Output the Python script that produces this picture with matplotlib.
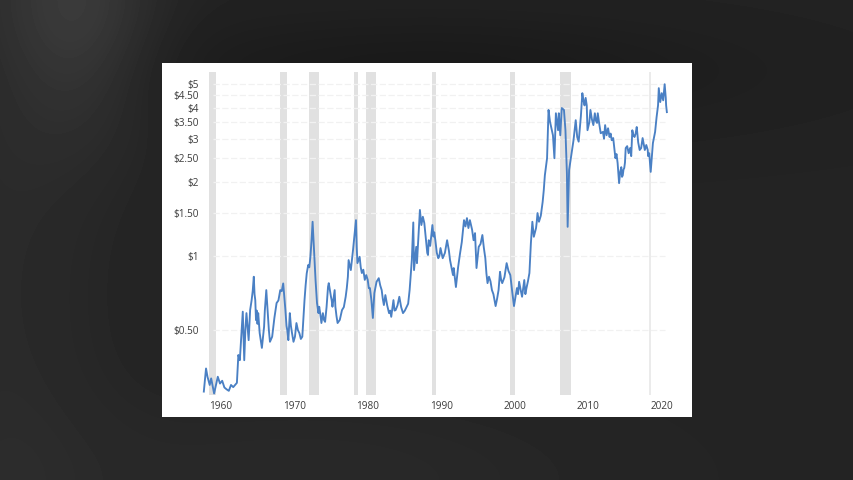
import numpy as np
import matplotlib
matplotlib.use("Agg")
import matplotlib.pyplot as plt

plt.rcParams['font.family'] = ['Open Sans', 'DejaVu Sans']
plt.rcParams['text.parse_math'] = False

years = [1957.7, 1958.0, 1958.2, 1958.5, 1958.7, 1959.1, 1959.6, 1959.9, 1960.2, 1960.8,
         1961.4, 1962.2, 1962.4, 1962.6, 1963.0, 1963.2, 1963.5, 1963.8, 1964.0, 1964.5,
         1964.7, 1964.8, 1965.1, 1965.3, 1965.6, 1965.9, 1966.2, 1966.4, 1966.7, 1967.0,
         1967.6, 1968.1, 1968.5, 1968.8, 1969.2, 1969.4, 1969.7, 1969.9, 1970.3, 1970.7,
         1971.1, 1971.4, 1971.7, 1971.9, 1972.2, 1972.5, 1972.7, 1972.9, 1973.1, 1973.3,
         1973.4, 1973.7, 1973.9, 1974.2, 1974.6, 1974.7, 1975.0, 1975.2, 1975.5, 1975.6,
         1975.9, 1976.5, 1977.0, 1977.3, 1977.4, 1977.7, 1978.0, 1978.4, 1978.5, 1978.6,
         1978.9, 1979.2, 1979.8, 1980.3, 1980.5, 1980.7, 1980.9, 1981.2, 1981.5, 1981.9,
         1982.2, 1982.4, 1982.9, 1983.2, 1983.5, 1983.8, 1984.3, 1984.8, 1985.3, 1985.7,
         1986.0, 1986.2, 1986.3, 1986.6, 1986.7, 1987.1, 1987.3, 1987.5, 1987.7, 1988.1,
         1988.2, 1988.3, 1988.8, 1989.2, 1989.6, 1989.9, 1990.2, 1990.8, 1991.2, 1991.6,
         1991.7, 1992.0, 1992.3, 1992.8, 1993.1, 1993.5, 1993.9, 1994.4, 1994.6, 1994.8,
         1995.1, 1995.6, 1996.0, 1996.3, 1996.5, 1996.9, 1997.4, 1997.8, 1998.0, 1998.3,
         1998.9, 1999.4, 1999.9, 2000.3, 2000.6, 2001.0, 2001.3, 2001.6, 2002.0, 2002.2,
         2002.4, 2002.6, 2002.9, 2003.1, 2003.3, 2003.8, 2004.1, 2004.4, 2004.6, 2004.8,
         2005.2, 2005.4, 2005.6, 2005.9, 2006.0, 2006.2, 2006.4, 2006.7, 2006.9, 2007.1,
         2007.2, 2007.4, 2007.8, 2008.0, 2008.3, 2008.7, 2009.2, 2009.5, 2009.8, 2009.9,
         2010.3, 2010.7, 2010.9, 2011.2, 2011.3, 2011.7, 2012.3, 2012.5, 2012.7, 2013.2,
         2013.4, 2013.7, 2014.0, 2014.2, 2014.5, 2014.7, 2014.9, 2015.1, 2015.5, 2015.7,
         2016.0, 2016.3, 2016.6, 2017.0, 2017.4, 2017.7, 2017.9, 2018.3, 2018.5, 2018.8,
         2019.1, 2019.3, 2019.5, 2019.6, 2019.8, 2020.0, 2020.4, 2020.7]

prices = [.281, .349, .323, .299, .318, .276, .323, .303, .311, .287,
          .299, .305, .396, .377, .594, .377, .586, .455, .603, .824,
          .662, .549, .586, .486, .423, .516, .727, .586, .448, .470,
          .644, .727, .774, .603, .455, .586, .486, .448, .534, .486,
          .470, .662, .850, .919, .993, 1.379, 1.058, .799, .644, .586,
          .622, .534, .586, .540, .750, .776, .683, .622, .727, .622,
          .534, .603, .683, .824, .963, .877, 1.058, 1.40, 1.09, .936,
          .993, .853, .837, .741, .662, .560, .707, .786, .813, .727,
          .632, .694, .586, .566, .662, .603, .683, .586, .622, .727,
          .963, 1.37, .877, 1.09, .936, 1.54, 1.337, 1.445, 1.362, 1.03,
          1.01, 1.16, 1.337, 1.16, .98, 1.078, .98, 1.16, .963, .837,
          .894, .748, .902, 1.14, 1.40, 1.427, 1.40, 1.16, 1.24, .894,
          1.09, 1.218, .98, .776, .824, .727, .626, .727, .863, .776,
          .936, .837, .626, .741, .786, .683, .799, .741, .853, 1.13,
          1.379, 1.198, 1.30, 1.496, 1.379, 1.66, 2.13, 2.50, 3.93, 3.52,
          3.10, 2.50, 3.81, 3.25, 3.81, 3.10, 4.00, 3.93, 3.25, 2.17,
          1.315, 2.24, 2.70, 2.96, 3.57, 2.92, 4.60, 4.10, 4.10, 3.25,
          3.93, 3.41, 3.81, 3.48, 3.81, 3.16, 3.41, 3.10, 3.31, 2.96,
          3.02, 2.50, 2.39, 1.98, 2.30, 2.13, 2.28, 2.75, 2.62, 2.75,
          3.25, 3.05, 3.35, 2.70, 3.02, 2.70, 2.83, 2.62, 2.20, 2.88,
          3.20, 3.67, 4.10, 4.82, 4.23, 4.60, 5.00, 3.85]

# second pass over the picture, the smaller swings between the turning points above
extra_years = [1960.5, 1961.1, 1961.7, 1962.0, 1963.1, 1963.35, 1963.9, 1964.2, 1964.35, 1964.6,
               1964.9, 1965.0, 1966.0, 1966.1, 1966.55, 1967.3, 1967.45, 1967.85, 1968.3, 1968.95,
               1969.05, 1969.55, 1970.1, 1970.5, 1970.9, 1971.55, 1972.05, 1972.35, 1973.55, 1974.05,
               1974.4, 1975.1, 1975.75, 1976.2, 1976.75, 1977.15, 1979.05, 1979.4, 1979.6, 1980.0,
               1980.15, 1981.7, 1982.05, 1982.65, 1983.05, 1983.65, 1984.05, 1984.55, 1985.05, 1985.5,
               1988.5, 1988.95, 1989.05, 1989.4, 1989.75, 1990.05, 1990.5, 1991.05, 1991.4, 1992.55,
               1993.3, 1993.7, 1994.2, 1995.35, 1995.8, 1996.15, 1996.7, 1997.1, 1997.6, 1998.15,
               1998.6, 1999.15, 1999.65, 2000.45, 2000.8, 2001.15, 2001.45, 2001.8, 2003.0, 2003.55,
               2003.95, 2008.5, 2009.0, 2009.35, 2009.65, 2010.15, 2010.5, 2011.05, 2011.5, 2012.0,
               2012.15, 2012.9, 2013.05, 2013.55, 2013.85, 2014.35, 2014.6, 2014.8, 2015.0, 2015.3,
               2015.85, 2016.15, 2016.45, 2016.8, 2017.2, 2017.55, 2018.1, 2018.15, 2019.9, 2020.2,
               2020.55, 2020.6]

extra_prices = [.292, .283, .293, .300, .470, .500, .520, .660, .720, .700,
                .600, .530, .600, .660, .500, .560, .600, .660, .720, .520,
                .500, .520, .470, .500, .460, .760, .900, 1.15, .580, .550,
                .620, .660, .570, .550, .620, .740, .900, .880, .800, .800,
                .740, .760, .670, .630, .600, .600, .630, .620, .600, .640,
                1.10, 1.20, 1.25, 1.03, 1.00, 1.03, 1.03, 1.05, .900, 1.02,
                1.32, 1.30, 1.28, 1.12, 1.08, .850, .790, .700, .670, .800,
                .820, .870, .720, .700, .730, .740, .700, .790, 1.38, 1.46,
                1.85, 3.05, 3.70, 4.30, 4.40, 3.50, 3.60, 3.55, 3.45, 3.20,
                3.00, 3.05, 3.15, 2.75, 2.60, 2.20, 2.10, 2.25, 2.40, 2.80,
                2.55, 3.10, 3.15, 2.90, 2.75, 2.85, 2.70, 2.55, 4.40, 4.30,
                4.40, 4.10]

recessions = [(1958.45, 1959.36), (1968.07, 1969.06), (1972.0, 1973.4), (1978.14, 1978.68),
              (1979.73, 1981.09), (1988.75, 1989.33), (1999.4, 2000.04), (2006.12, 2007.62)]
thin_recession = (2018.27, 2018.54)

price_ticks = [0.5, 1, 1.5, 2, 2.5, 3, 3.5, 4, 4.5, 5]
price_labels = ['$0.50', '$1', '$1.50', '$2', '$2.50', '$3', '$3.50', '$4', '$4.50', '$5']
year_ticks = [1960, 1970, 1980, 1990, 2000, 2010, 2020]

W, H = 854, 480
fig = plt.figure(figsize=(W / 100, H / 100), dpi=100)

# dark backdrop with the lighter patch top left and shadow behind the panel
bg = fig.add_axes([0, 0, 1, 1], zorder=0)
xx, yy = np.meshgrid(np.arange(W), np.arange(H))
shade = 35 - 9 * np.exp(-(((xx - 427) / 330) ** 2 + ((yy - 70) / 60) ** 2))
shade += 20 * np.exp(-(((xx - 80) / 75) ** 2 + ((yy - 10) / 120) ** 2))
shade += 7 * np.exp(-((xx / 110) ** 2))
shade += 6 * np.exp(-(((xx - 300) / 300) ** 2 + ((yy - 480) / 90) ** 2))
bg.imshow(shade, cmap='gray', vmin=0, vmax=255, aspect='auto')
bg.axis('off')

ax = fig.add_axes([162 / W, 1 - 417 / H, 530 / W, 354 / H], zorder=1)
ax.set_facecolor('white')
ax.set_yscale('log')
ax.set_xlim(1952.01, 2024.12)
ax.set_ylim(0.2215, 6.1)

for start, end in recessions:
    ax.axvspan(start, end, ymin=0.062, ymax=0.975, color='#e1e1e1', lw=0, zorder=1)
ax.axvspan(*thin_recession, ymin=0.062, ymax=0.975, color='#ebebeb', lw=0, zorder=1)

ax.hlines(price_ticks, 1959, 2020.5, colors='#f1f1f1', linestyles=(0, (5, 2)), lw=0.9, zorder=2)

all_years = np.array(years + extra_years)
all_prices = np.array(prices + extra_prices)
order = np.argsort(all_years)
ax.plot(all_years[order], all_prices[order], color='#4a80c4', lw=1.35,
        solid_joinstyle='round', zorder=3)

ax.set_yticks(price_ticks)
ax.set_yticklabels(price_labels)
ax.minorticks_off()
ax.set_xticks(year_ticks)
ax.set_xticklabels([str(y) for y in year_ticks])
ax.tick_params(axis='y', length=0, pad=-26.4, labelsize=7.2, labelcolor='#3c3c3c')
ax.tick_params(axis='x', length=0, pad=-11.5, labelsize=7.2, labelcolor='#3c3c3c')
for spine in ax.spines.values():
    spine.set_visible(False)

fig.savefig('out.png', dpi=100)
